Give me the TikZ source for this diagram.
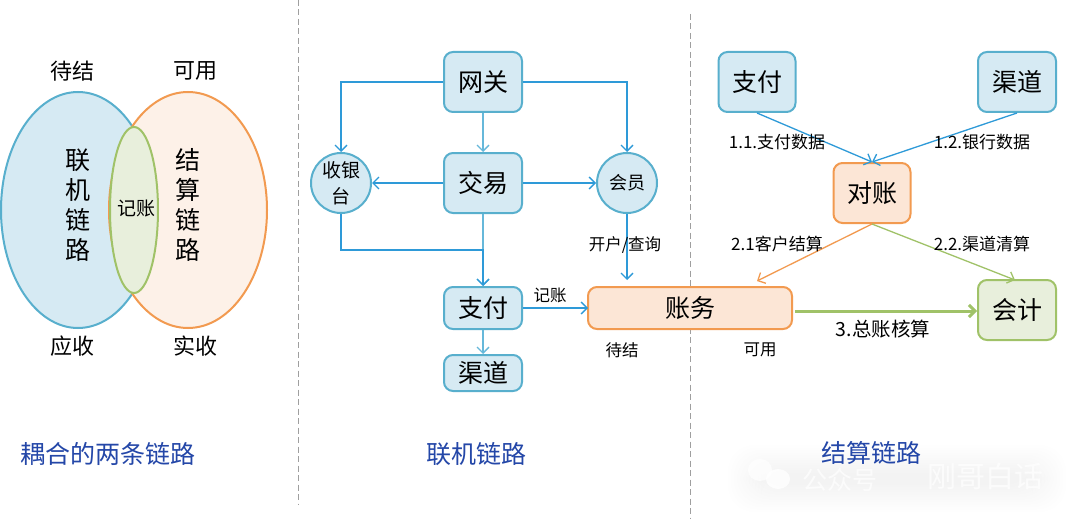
\documentclass[tikz,border=0pt]{standalone}
\usepackage{fontspec}
\setmainfont{Noto Sans CJK SC}
\usetikzlibrary{arrows.meta,shapes.geometric}
\definecolor{bfill}{HTML}{D6EAF3}
\definecolor{bline}{HTML}{58AFCD}
\definecolor{ofill}{HTML}{FCE6D6}
\definecolor{ofillb}{HTML}{FDF1E8}
\definecolor{oline}{HTML}{F29A50}
\definecolor{gfill}{HTML}{E8EFDC}
\definecolor{gline}{HTML}{A0C268}
\definecolor{link}{HTML}{2E9AD8}
\definecolor{linkb}{HTML}{66B8DA}
\definecolor{title}{HTML}{2447A8}
\newcommand{\fs}[1]{\fontsize{#1}{#1}\selectfont}
\tikzset{
  boxbase/.style={draw,rounded corners=9pt,line width=2pt,inner sep=0pt,text=black},
  bluebox/.style={boxbase,fill=bfill,draw=bline},
  orangebox/.style={boxbase,fill=ofill,draw=oline},
  greenbox/.style={boxbase,fill=gfill,draw=gline},
  roundnode/.style={circle,draw=bline,fill=bfill,line width=2pt,minimum size=60pt,inner sep=0pt,align=center},
  venn/.style={ellipse,line width=2pt,inner sep=0pt},
  conn/.style={draw=link,line width=1.3pt,-{Straight Barb[length=6pt,width=12pt]}},
  connl/.style={conn,draw=linkb},
  big/.style={font=\fs{25}},
  mid/.style={font=\fs{22}},
  small/.style={font=\fs{16.5}},
  edgelab/.style={font=\fs{17}},
  toptitle/.style={font=\fs{25},text=title},
  vertlab/.style={font=\fontsize{25}{30}\selectfont,align=center},
  sep/.style={draw=gray!75,line width=1pt,dash pattern=on 6pt off 3.5pt}
}
\begin{document}
\begin{tikzpicture}[x=1pt,y=-1pt]
\useasboundingbox (0,0) rectangle (1080,519);
\fill[white] (0,0) rectangle (1080,519);
% watermark halo
\foreach \i in {0,...,11}{
  \fill[black,opacity=0.005,rounded corners=26pt] (728+\i*3,445+\i*2.5) rectangle (1066-\i*3,512-\i*2.5);
}
\fill[white,opacity=.7] (760,470) ellipse (12 and 11);
\fill[white,opacity=.8] (778,479) ellipse (12 and 10);
\node[font=\fs{25},text=white,opacity=.7] (wma) at (840,480) {公众号};
\node[font=\fs{29},text=white,opacity=.7] (wmb) at (985,476) {刚哥白话};

\draw[sep] (298,0) -- (298,505);
\draw[sep] (690,14) -- (690,519);

% Venn
\node[venn,draw=bline,fill=bfill,minimum width=154pt,minimum height=236pt] (vb) at (78,210) {};
\node[venn,draw=oline,fill=ofillb,minimum width=158pt,minimum height=236pt] (vo) at (188,210) {};
\node[venn,draw=gline,fill=gfill,minimum width=48pt,minimum height=166pt] (vg) at (134,210) {};
\node[font=\fs{19}] (vgt) at (136,209) {记账};
\node[vertlab] (vbt) at (78,205) {联\\机\\链\\路};
\node[vertlab] (vot) at (188,205) {结\\算\\链\\路};
\node[mid] (l1) at (72,71) {待结};
\node[mid] (l2) at (195,71) {可用};
\node[mid] (l3) at (72,346) {应收};
\node[mid] (l4) at (195,346) {实收};

% Online chain
\node[bluebox,big,minimum width=78pt,minimum height=60pt] (wg) at (483,82) {网关};
\node[bluebox,big,minimum width=78pt,minimum height=60pt] (jy) at (483,183) {交易};
\node[roundnode,font=\fontsize{19}{26}\selectfont] (sy) at (341,183) {收银\\台};
\node[roundnode,font=\fs{18}] (hy) at (627,183) {会员};
\node[bluebox,big,minimum width=78pt,minimum height=42pt] (zf) at (483,308) {支付};
\node[bluebox,big,minimum width=78pt,minimum height=36pt] (qd) at (483,373) {渠道};
\node[orangebox,big,minimum width=204pt,minimum height=42pt] (zw) at (690,308) {账务};
\coordinate (join) at (483,250);
\coordinate (hyend) at (627,280);
\coordinate (zfin) at (588,308);

\draw[conn] (wg.west) -| (sy.north);
\draw[conn] (wg.east) -| (hy.north);
\draw[connl] (wg.south) -- (jy.north);
\draw[conn] (jy.west) -- (sy.east);
\draw[conn] (jy.east) -- (hy.west);
\draw[connl] (jy.south) -- (zf.north);
\draw[conn] (sy.south) |- (join) -- (zf.north);
\draw[connl] (zf.south) -- (qd.north);
\draw[conn] (zf.east) -- (zfin);
\draw[conn] (hy.south) -- (hyend);

\node[small] (t1) at (625,245) {开户/查询};
\node[small] (t2) at (550,295) {记账};
\node[small] (t3) at (622,350) {待结};
\node[small] (t4) at (760,350) {可用};

% Settlement chain
\node[bluebox,big,minimum width=77pt,minimum height=60pt] (zf2) at (757,82) {支付};
\node[bluebox,big,minimum width=78pt,minimum height=60pt] (qd2) at (1017,82) {渠道};
\node[orangebox,big,minimum width=77pt,minimum height=60pt] (dz) at (872,193) {对账};
\node[greenbox,big,minimum width=78pt,minimum height=60pt] (kj) at (1017,310) {会计};
\coordinate (zwin) at (757,281);
\coordinate (kjin) at (1015,280);

\draw[conn] (zf2.south) -- (dz.north);
\draw[conn] (qd2.south) -- (dz.north);
\draw[conn,draw=oline] (dz.south) -- (zwin);
\draw[conn,draw=gline] (dz.south) -- (kjin);
\coordinate (zwout) at (795,311);
\coordinate (kjout) at (977,311);
\draw[conn,draw=gline,line width=3pt] (zwout) -- (kjout);

\node[edgelab] (e1) at (777,142) {1.1.支付数据};
\node[edgelab] (e2) at (982,142) {1.2.银行数据};
\node[edgelab] (e3) at (777,244) {2.1客户结算};
\node[edgelab] (e4) at (982,244) {2.2.渠道清算};
\node[font=\fs{19.5}] (e5) at (883,329) {3.总账核算};

% Titles
\node[toptitle] (h1) at (108,454) {耦合的两条链路};
\node[toptitle] (h2) at (476,454) {联机链路};
\node[toptitle] (h3) at (871,453) {结算链路};
\end{tikzpicture}
\end{document}
